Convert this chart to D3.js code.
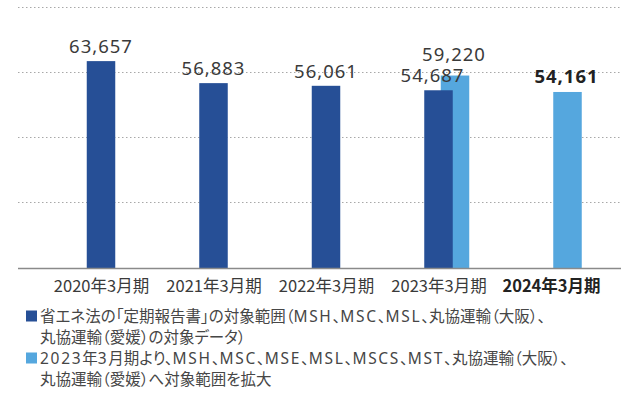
<!DOCTYPE html>
<html>
<head>
<meta charset="utf-8">
<script src="https://cdn.jsdelivr.net/npm/d3@7"></script>
<style>
  html, body { margin: 0; padding: 0; background: #fff; }
  svg { display: block; }
  .val { font-family: "Noto Sans", sans-serif; font-size: 18.5px; letter-spacing: 1px; fill: #3a3a3a; }
  .cat { font-family: "Noto Sans CJK JP", sans-serif; font-size: 16.5px; fill: #3a3a3a; }
  .legend { font-family: "Noto Sans", "Noto Sans CJK JP", sans-serif; font-size: 15.5px; fill: #464646; font-feature-settings: "palt"; }
  .legend .latin { letter-spacing: 1.7px; }
  .bold { font-weight: bold; fill: #222; }
</style>
</head>
<body>
<script>
// Fiscal periods (year ending March)
const categories = ["2020年3月期", "2021年3月期", "2022年3月期", "2023年3月期", "2024年3月期"];
// Energy-saving law "periodic report" scope
const scopeOld = [63657, 56883, 56061, 54687, null];
// Expanded scope from FY ending March 2023
const scopeNew = [null, null, null, 59220, 54161];
const yTicks = [0, 20000, 40000, 60000, 80000];
const highlight = "2024年3月期";

const legendItems = [
  { lines: ["省エネ法の「定期報告書」の対象範囲（MSH、MSC、MSL、丸協運輸（大阪）、", "丸協運輸（愛媛）の対象データ）"], color: "#264f96" },
  { lines: ["2023年3月期より、MSH、MSC、MSE、MSL、MSCS、MST、丸協運輸（大阪）、", "丸協運輸（愛媛）へ対象範囲を拡大"], color: "#55a7de" }
];

const W = 621, H = 397;
const svg = d3.select("body").append("svg").attr("width", W).attr("height", H);

const y = d3.scaleLinear().domain([0, 80000]).range([268, 8]);
const x = d3.scalePoint().domain(categories).range([101, 551]);
const barW = 28.5;
const newOffset = 16.5;

// dotted gridlines, including the top one at the domain maximum
svg.append("g").selectAll("line").data(yTicks.filter(d => d > 0)).join("line")
  .attr("x1", 18).attr("x2", W)
  .attr("y1", d => Math.round(y(d)) - 0.5).attr("y2", d => Math.round(y(d)) - 0.5)
  .attr("stroke", "#a8a8a8").attr("stroke-width", 1).attr("stroke-dasharray", "1.5,2.5");

const rowsOld = categories.map((c, i) => ({ c, v: scopeOld[i], both: scopeOld[i] != null && scopeNew[i] != null })).filter(d => d.v != null);
const rowsNew = categories.map((c, i) => ({ c, v: scopeNew[i], both: scopeOld[i] != null && scopeNew[i] != null })).filter(d => d.v != null);

// expanded-scope bars sit behind, shifted right
svg.append("g").selectAll("rect").data(rowsNew).join("rect")
  .attr("x", d => x(d.c) + newOffset - barW / 2)
  .attr("y", d => y(d.v))
  .attr("width", barW)
  .attr("height", d => y(0) - y(d.v))
  .attr("fill", "#55a7de");

svg.append("g").selectAll("rect").data(rowsOld).join("rect")
  .attr("x", d => x(d.c) - barW / 2)
  .attr("y", d => y(d.v))
  .attr("width", barW)
  .attr("height", d => y(0) - y(d.v))
  .attr("fill", "#264f96");

// baseline
svg.append("line").attr("x1", 18).attr("x2", W)
  .attr("y1", y(0) + 0.5).attr("y2", y(0) + 0.5)
  .attr("stroke", "#8a8a8a").attr("stroke-width", 1.5);

const fmt = d3.format(",");

svg.append("g").selectAll("text").data(rowsOld).join("text")
  .attr("class", d => "val" + (d.c === highlight ? " bold" : ""))
  .attr("text-anchor", "middle")
  .attr("x", d => x(d.c) - (d.both ? 6 : 0))
  .attr("y", d => y(d.v) - 8)
  .text(d => fmt(d.v));

svg.append("g").selectAll("text").data(rowsNew).join("text")
  .attr("class", d => "val" + (d.c === highlight ? " bold" : ""))
  .attr("text-anchor", "middle")
  .attr("x", d => x(d.c) + newOffset - 1)
  .attr("y", d => y(d.v) - (d.both ? 15 : 9))
  .text(d => fmt(d.v));

// category axis
const xAxis = svg.append("g").attr("transform", `translate(0,${y(0)})`)
  .call(d3.axisBottom(x).tickSize(0).tickPadding(0));
xAxis.select(".domain").remove();
xAxis.selectAll("text")
  .attr("class", d => "cat" + (d === highlight ? " bold" : ""))
  .attr("fill", null)
  .attr("dy", null)
  .attr("y", 24)
  .attr("x", 0);

// legend: Latin runs are spaced a little wider than the Japanese text
const lg = svg.append("g");
let ly = 316;
legendItems.forEach(item => {
  lg.append("rect").attr("x", 26).attr("y", ly - 5.5).attr("width", 11).attr("height", 11).attr("fill", item.color);
  item.lines.forEach(line => {
    const t = lg.append("text").attr("class", "legend").attr("x", 40).attr("y", ly).attr("dy", "0.36em");
    line.match(/[\x00-\x7F]+|[^\x00-\x7F]+/g).forEach(run => {
      t.append("tspan").attr("class", /^[\x00-\x7F]/.test(run) ? "latin" : null).text(run);
    });
    ly += 21;
  });
});
</script>
</body>
</html>
